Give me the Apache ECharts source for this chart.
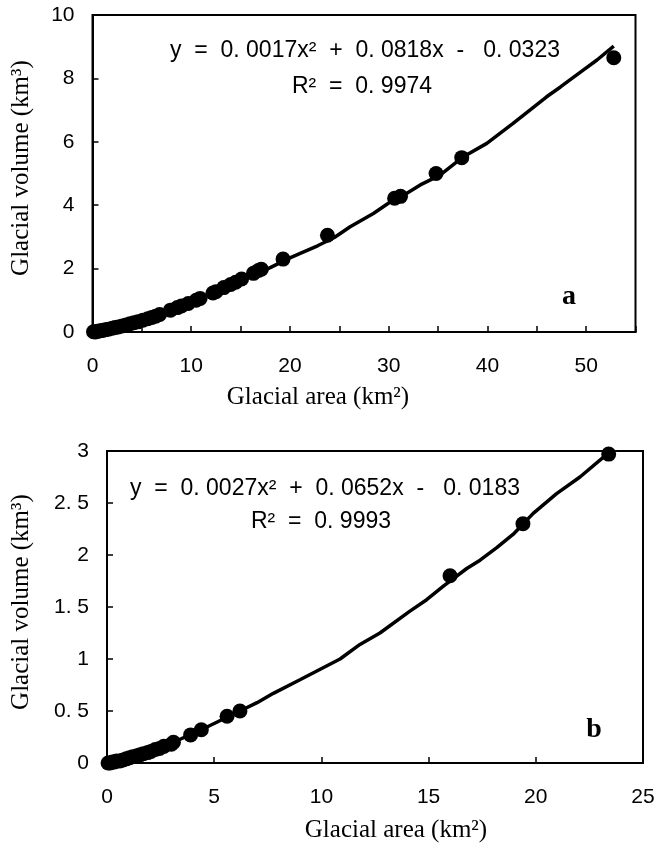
<!DOCTYPE html>
<html>
<head>
<meta charset="utf-8">
<script src="https://cdn.jsdelivr.net/npm/echarts@6/dist/echarts.min.js"></script>
<style>
html,body{margin:0;padding:0;background:#fff;}
#chart{width:669px;height:843px;}
</style>
</head>
<body>
<div id="chart"></div>
<script>
// ---- Panel a ----
var areaA = [0.1,0.3,0.5,0.8,1.0,1.3,1.6,2.0,2.3,2.6,3.0,3.4,3.8,4.2,4.6,5.1,5.6,6.0,6.4,6.8,7.9,8.6,9.0,9.7,10.5,10.9,12.2,12.5,13.3,14.0,14.5,15.1,16.3,16.8,17.1,19.3,23.8,30.6,31.2,34.8,37.4,52.8];
var volA  = [0.01,0.0,0.02,0.04,0.05,0.07,0.09,0.12,0.14,0.16,0.19,0.22,0.26,0.29,0.32,0.37,0.42,0.46,0.50,0.55,0.69,0.77,0.82,0.90,1.00,1.06,1.23,1.27,1.40,1.50,1.57,1.67,1.85,1.94,1.98,2.30,3.05,4.22,4.28,5.00,5.50,8.65];
var fitAreaA = [0.2,2,4,6,8,10,12,14,16,18,20,21.1,22.8,24.5,26.1,28.45,29.97,31.8,33.2,35.2,37.57,39.94,42.6,44.3,46.0,47.4,49.7,51.1,52.8];
var fitVolA  = [0.0,0.13,0.3,0.5,0.72,0.95,1.21,1.47,1.74,2.03,2.34,2.49,2.72,2.98,3.32,3.74,4.06,4.37,4.64,4.95,5.53,5.95,6.58,7.0,7.42,7.73,8.26,8.58,9.02];
var eqA = 'y  =  0. 0017x²  +  0. 0818x  -   0. 0323';
var r2A = 'R²  =  0. 9974';

// ---- Panel b ----
var areaB = [0.05,0.15,0.25,0.35,0.45,0.6,0.75,0.9,1.05,1.2,1.4,1.55,1.7,1.9,2.05,2.25,2.45,2.65,3.0,3.1,3.9,4.4,5.6,6.2,16.0,19.4,23.4];
var volB  = [0.0,0.0,0.01,0.01,0.02,0.02,0.03,0.04,0.05,0.06,0.07,0.08,0.09,0.10,0.11,0.13,0.14,0.16,0.18,0.20,0.27,0.32,0.45,0.50,1.80,2.30,2.97];
var fitAreaB = [0.1,1,2,3,4.4,5.5,6.2,7,7.76,9,10.87,11.8,12.73,14.13,14.91,15.69,16.78,17.4,18.18,18.95,19.88,20.97,22.06,23.38];
var fitVolB  = [-0.01,0.05,0.12,0.19,0.32,0.43,0.5,0.58,0.67,0.8,1.0,1.14,1.25,1.46,1.57,1.7,1.87,1.95,2.07,2.2,2.4,2.59,2.75,2.98];
var eqB = 'y  =  0. 0027x²  +  0. 0652x  -   0. 0183';
var r2B = 'R²  =  0. 9993';

var xTitle = 'Glacial area (km²)';
var yTitle = 'Glacial volume (km³)';

function zip(a, b){ return a.map(function(v,i){ return [v, b[i]]; }); }

var SANS = '"Liberation Sans", Arial, sans-serif';
var SERIF = '"Liberation Serif", "Times New Roman", serif';

function xAxisCfg(idx, max, fmt){
  return {
    type:'value', gridIndex: idx, min:0, max:max, interval:5,
    axisLine:{show:true, onZero:false, lineStyle:{color:'#000', width:2}},
    axisTick:{show:true, inside:true, length:6, lineStyle:{color:'#000', width:1.5}},
    splitLine:{show:false},
    axisLabel:{color:'#000', fontFamily:SANS, fontSize:21, margin:24, formatter: fmt}
  };
}
function yAxisCfg(idx, max, interval, fmt){
  return {
    type:'value', gridIndex: idx, min:0, max:max, interval:interval,
    axisLine:{show:true, onZero:false, lineStyle:{color:'#000', width:2}},
    axisTick:{show:true, inside:true, length:6, lineStyle:{color:'#000', width:1.5}},
    splitLine:{show:false},
    axisLabel:{color:'#000', fontFamily:SANS, fontSize:21, margin:18, formatter: fmt}
  };
}

var chart = echarts.init(document.getElementById('chart'), null, {renderer:'canvas'});
chart.setOption({
  backgroundColor:'#fff',
  animation:false,
  grid:[
    {left:92.5, top:15, width:543, height:317, show:true, borderColor:'#000', borderWidth:2, backgroundColor:'transparent'},
    {left:107, top:451, width:536, height:312, show:true, borderColor:'#000', borderWidth:2, backgroundColor:'transparent'}
  ],
  xAxis:[
    xAxisCfg(0, 55, function(v){ return v % 10 === 0 ? String(v) : ''; }),
    xAxisCfg(1, 25, function(v){ return String(v); })
  ],
  yAxis:[
    yAxisCfg(0, 10, 2, function(v){ return String(v); }),
    yAxisCfg(1, 3, 0.5, function(v){ return String(v).replace('.', '. '); })
  ],
  series:[
    {type:'line', xAxisIndex:0, yAxisIndex:0, data: zip(fitAreaA, fitVolA), showSymbol:false, symbol:'none',
     lineStyle:{color:'#000', width:3.5}, z:2},
    {type:'scatter', xAxisIndex:0, yAxisIndex:0, data: zip(areaA, volA), symbol:'circle', symbolSize:15,
     itemStyle:{color:'#000', opacity:1}, z:3},
    {type:'line', xAxisIndex:1, yAxisIndex:1, data: zip(fitAreaB, fitVolB), showSymbol:false, symbol:'none',
     lineStyle:{color:'#000', width:3.5}, z:2},
    {type:'scatter', xAxisIndex:1, yAxisIndex:1, data: zip(areaB, volB), symbol:'circle', symbolSize:15,
     itemStyle:{color:'#000', opacity:1}, z:3}
  ],
  graphic:[
    {type:'text', x:365, y:51, style:{text:eqA, font:'23px '+SANS, fill:'#000', align:'center', verticalAlign:'middle'}},
    {type:'text', x:362, y:87, style:{text:r2A, font:'23px '+SANS, fill:'#000', align:'center', verticalAlign:'middle'}},
    {type:'text', x:325, y:489, style:{text:eqB, font:'23px '+SANS, fill:'#000', align:'center', verticalAlign:'middle'}},
    {type:'text', x:321, y:522, style:{text:r2B, font:'23px '+SANS, fill:'#000', align:'center', verticalAlign:'middle'}},
    {type:'text', x:318, y:397, style:{text:xTitle, font:'25px '+SERIF, fill:'#000', align:'center', verticalAlign:'middle'}},
    {type:'text', x:396, y:830, style:{text:xTitle, font:'25px '+SERIF, fill:'#000', align:'center', verticalAlign:'middle'}},
    {type:'text', x:21, y:168, rotation:Math.PI/2, style:{text:yTitle, font:'25px '+SERIF, fill:'#000', align:'center', verticalAlign:'middle'}},
    {type:'text', x:21, y:602, rotation:Math.PI/2, style:{text:yTitle, font:'25px '+SERIF, fill:'#000', align:'center', verticalAlign:'middle'}},
    {type:'text', x:569, y:297, style:{text:'a', font:'bold 28px '+SERIF, fill:'#000', align:'center', verticalAlign:'middle'}},
    {type:'text', x:594, y:730, style:{text:'b', font:'bold 28px '+SERIF, fill:'#000', align:'center', verticalAlign:'middle'}}
  ]
});
</script>
</body>
</html>
